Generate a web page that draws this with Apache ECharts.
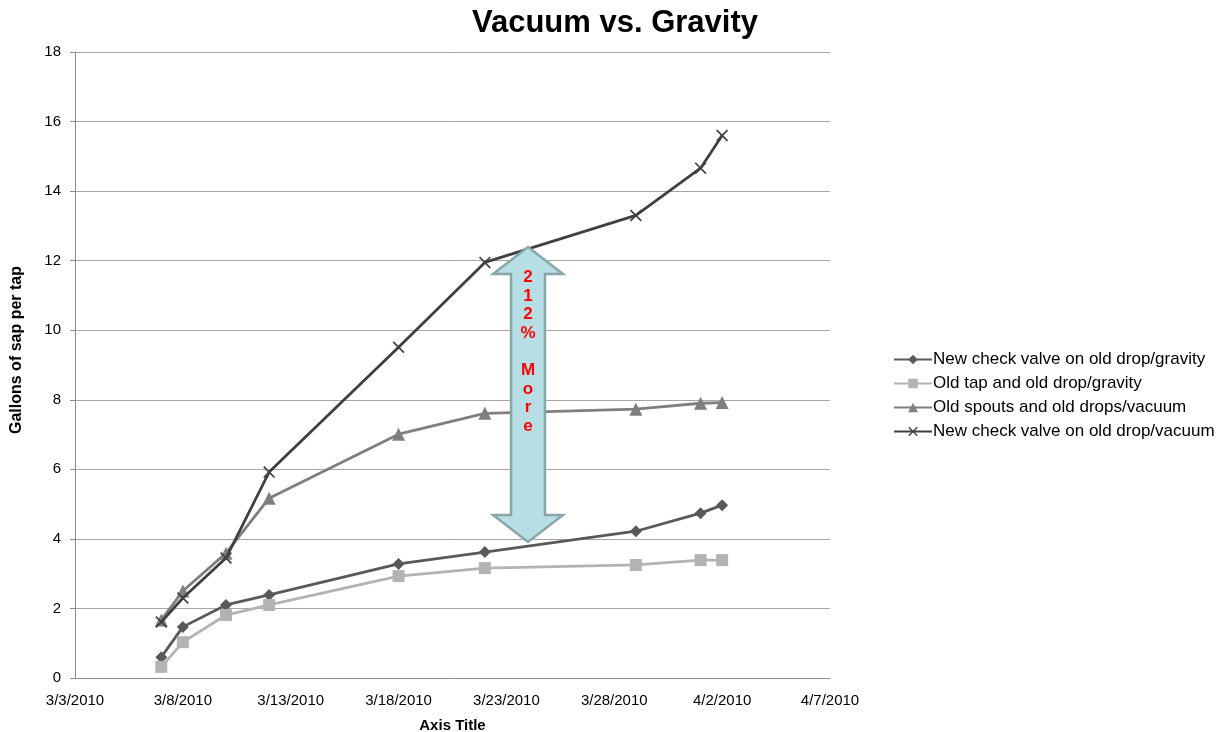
<!DOCTYPE html>
<html><head><meta charset="utf-8">
<script src="https://cdn.jsdelivr.net/npm/echarts@6/dist/echarts.min.js"></script>
<style>html,body{margin:0;padding:0;background:#fff}#c{width:1225px;height:732px}</style>
</head><body><div id="c"></div>
<script>
const dates = ['2010-03-07','2010-03-08','2010-03-10','2010-03-12','2010-03-18','2010-03-22','2010-03-29','2010-04-01','2010-04-02'];
const seriesNames = ['New check valve on old drop/gravity','Old tap and old drop/gravity','Old spouts and old drops/vacuum','New check valve on old drop/vacuum'];
const checkGravity = [0.60,1.47,2.10,2.39,3.28,3.62,4.22,4.74,4.97];
const oldGravity   = [0.32,1.03,1.81,2.10,2.93,3.16,3.25,3.39,3.39];
const oldVacuum    = [1.67,2.50,3.59,5.17,7.01,7.61,7.73,7.90,7.92];
const checkVacuum  = [1.61,2.30,3.45,5.92,9.51,11.95,13.30,14.66,15.60];
const yTicks = [0,2,4,6,8,10,12,14,16,18];
const axisStart = '2010-03-03';
const axisEnd = '2010-04-07';

const DAY = 86400000;
const t0 = Date.parse(axisStart + 'T00:00:00Z');
const off = d => Math.round((Date.parse(d + 'T00:00:00Z') - t0) / DAY);
const fmt = v => { const d = new Date(t0 + v * DAY); return (d.getUTCMonth()+1) + '/' + d.getUTCDate() + '/' + d.getUTCFullYear(); };
const xs = dates.map(off);
const pair = arr => xs.map((x,i)=>[x, arr[i]]);

const crossPath = 'path://M0,1L1,0L10,9L9,10Z M9,0L10,1L1,10L0,9Z';
const styles = [
  {color:'#595959', symbol:'diamond', size:12},
  {color:'#b3b3b3', symbol:'rect', size:12},
  {color:'#7f7f7f', symbol:'triangle', size:13},
  {color:'#404040', symbol:crossPath, size:12}
];
const datas = [checkGravity, oldGravity, oldVacuum, checkVacuum];

const chart = echarts.init(document.getElementById('c'));
chart.setOption({
  animation:false,
  backgroundColor:'#fff',
  textStyle:{fontFamily:'Liberation Sans, Arial, sans-serif'},
  title:{text:'Vacuum vs. Gravity', left:610, top:3, textAlign:'center',
    textStyle:{fontSize:31, fontWeight:'bold', color:'#000', fontFamily:'Liberation Sans, Arial, sans-serif'}},
  grid:{left:75, right:395, top:52, bottom:54, containLabel:false, outerBoundsMode:'none'},
  legend:{orient:'vertical', left:888, top:346, itemGap:7, itemWidth:38, itemHeight:12,
    textStyle:{fontSize:17, color:'#000', padding:[0,0,0,-4]},
    data:seriesNames},
  xAxis:{type:'value', min:0, max:off(axisEnd), interval:5,
    axisLine:{show:true, lineStyle:{color:'#8c8c8c', width:1}},
    axisTick:{show:false},
    splitLine:{show:false},
    axisLabel:{formatter:fmt, fontSize:15, color:'#000', margin:15},
    name:'Axis Title', nameLocation:'middle', nameGap:40,
    nameTextStyle:{fontSize:15, fontWeight:'bold', color:'#000'}},
  yAxis:{type:'value', min:yTicks[0], max:yTicks[yTicks.length-1], interval:2,
    axisLine:{show:true, lineStyle:{color:'#8c8c8c', width:1}},
    axisTick:{show:true, length:5, lineStyle:{color:'#8c8c8c'}},
    splitLine:{show:true, lineStyle:{color:'#a6a6a6', width:1}},
    axisLabel:{fontSize:15, color:'#000', margin:14},
    name:'Gallons of sap per tap', nameLocation:'middle', nameGap:50, nameRotate:90,
    nameTextStyle:{fontSize:16, fontWeight:'bold', color:'#000', padding:[0,0,0,30],
      fontFamily:'Liberation Sans Narrow, Arial Narrow, Liberation Sans, sans-serif'}},
  series: seriesNames.map((n,i)=>({
    name:n, type:'line', data:pair(datas[i]),
    symbol:styles[i].symbol, symbolSize:styles[i].size, showSymbol:true,
    lineStyle:{color:styles[i].color, width:2.8},
    itemStyle:{color:styles[i].color, borderColor:styles[i].color, borderWidth:0},
    z: 2 + (i===3 ? 1 : 0)
  })),
  graphic:[
    {type:'polygon', z:100,
     shape:{points:[[528,247],[563,274],[545,274],[545,515],[563,515],[528,542],[493,515],[511,515],[511,274],[493,274]]},
     style:{fill:'#b7dee4', stroke:'#8aa6a9', lineWidth:2.5}},
    {type:'text', z:101, x:528, y:268,
     style:{text:'2\n1\n2\n%\n\nM\no\nr\ne', fill:'#ff0000', font:'bold 17px Liberation Sans, Arial, sans-serif',
       align:'center', verticalAlign:'top', lineHeight:18.6}}
  ]
});
</script></body></html>
